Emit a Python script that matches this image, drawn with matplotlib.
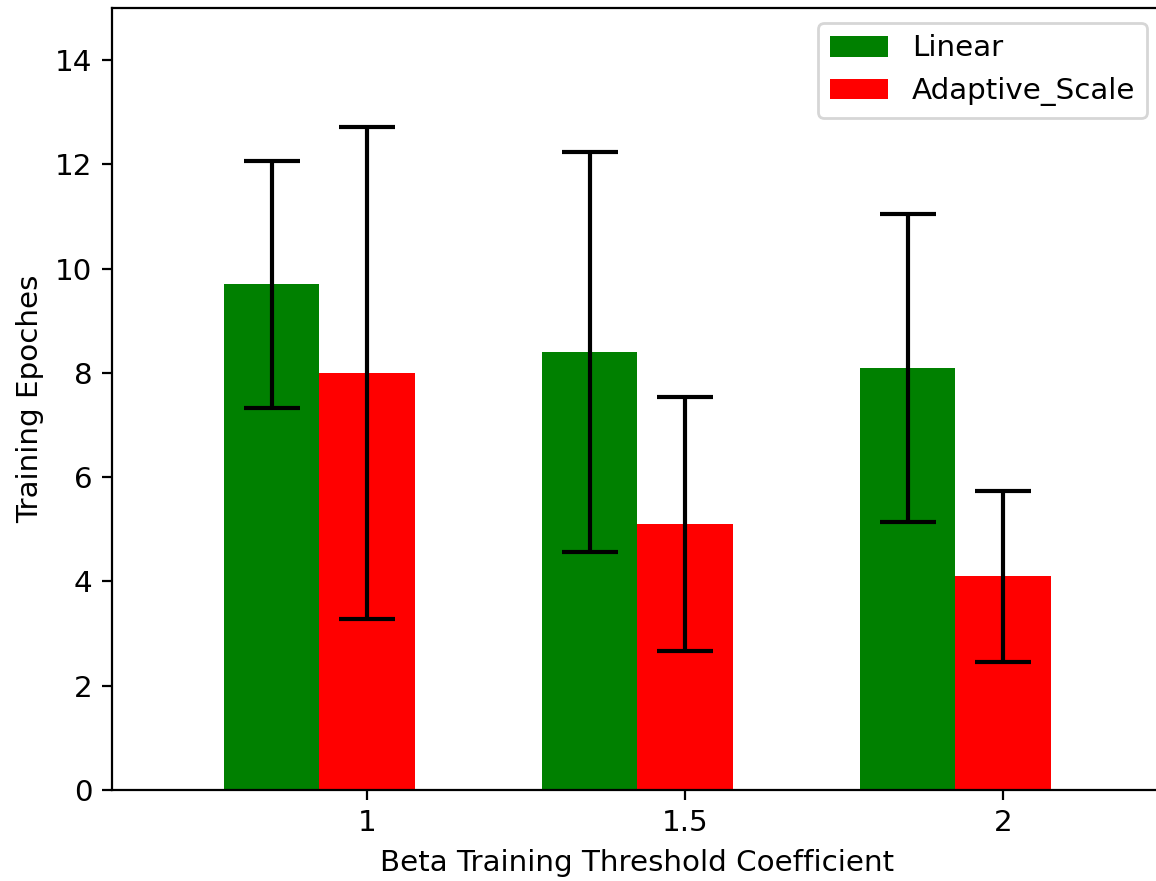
import matplotlib
matplotlib.use("Agg")
import matplotlib.pyplot as plt
import numpy as np

# data
betas = [1, 1.5, 2]
beta_labels = ['1', '1.5', '2']
linear_mean = [9.7, 8.4, 8.1]
linear_err = [2.37, 3.83, 2.95]
adaptive_mean = [8.0, 5.1, 4.1]
adaptive_err = [4.72, 2.43, 1.64]

plt.rcParams['font.size'] = 10.6

width = 0.15
x = np.array(betas)

fig = plt.figure(figsize=(1156 / 200, 881 / 200), dpi=200)
ax = fig.add_axes([112 / 1156, 1 - 790 / 881, (1162 - 112) / 1156, (790 - 8) / 881])

ax.bar(x - width, linear_mean, width, yerr=linear_err, capsize=10,
       color='green', ecolor='black', error_kw={'elinewidth': 1.5, 'capthick': 1.5},
       label='Linear')
ax.bar(x, adaptive_mean, width, yerr=adaptive_err, capsize=10,
       color='red', ecolor='black', error_kw={'elinewidth': 1.5, 'capthick': 1.5},
       label='Adaptive_Scale')

ax.set_xticks(x)
ax.set_xticklabels(beta_labels)
ax.set_xlim(0.599, 2.25)
ax.set_ylim(0, 15)
ax.set_yticks([0, 2, 4, 6, 8, 10, 12, 14])
ax.set_xlabel('Beta Training Threshold Coefficient')
ax.set_ylabel('Training Epoches')
ax.legend(loc='upper right')

fig.savefig('out.png', dpi=200)
